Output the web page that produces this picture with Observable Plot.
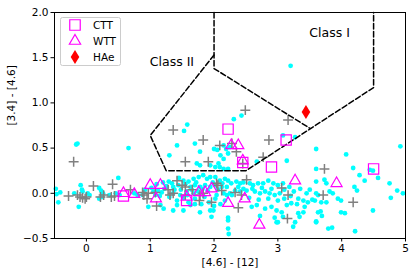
<!DOCTYPE html>
<html>
<head>
<meta charset="utf-8">
<script src="https://cdn.jsdelivr.net/npm/d3@7"></script>
<script src="https://cdn.jsdelivr.net/npm/@observablehq/plot@0.6"></script>
<style>
  body { margin: 0; background: white; }
  #wrap { position: relative; width: 416px; height: 278px; }
  #wrap svg { position: absolute; left: 0; top: 0; }
</style>
</head>
<body>
<div id="wrap"></div>
<script>
// ---- data: [4.6]-[12] (x), [3.4]-[4.6] (y) ----
const fieldStars = [
  [-0.48,0.05],[-0.41,0.01],[-0.44,-0.10],[-0.47,-0.01],[-0.16,0.54],[-0.14,0.55],
  [-0.09,0.09],[-0.07,0.04],[-0.19,0.0],[-0.12,-0.15],[-0.06,0.02],
  [0.02,0.0],[0.05,-0.02],[0.20,0.06],[0.23,0.03],[0.26,0.0],[0.20,-0.06],[0.25,-0.04],
  [0.36,-0.02],[0.46,0.0],[0.52,-0.02],[0.50,0.17],[0.66,0.50],
  [0.75,0.0],[0.80,-0.02],[0.88,-0.02],[0.92,0.04],[0.97,-0.15],
  [1.42,0.53],[1.70,0.55],[1.78,0.46],[1.30,0.42],[2.0,0.49],[2.05,0.48],[2.15,0.53],[2.19,0.49],
  [2.10,0.42],[2.15,0.38],[2.22,0.44],[1.73,0.33],[1.78,0.31],[2.09,0.29],[2.15,0.27],
  [1.58,0.76],[1.53,0.69],[2.31,0.82],[2.43,0.86],[1.94,0.31],[2.02,0.29],[2.07,0.33],[2.25,0.51],[2.22,0.27],
  [1.02,0.06],[1.05,0.02],[1.08,-0.02],[1.12,0.03],[1.15,-0.03],[1.18,0.01],[1.22,0.05],[1.25,0.08],
  [1.29,0.13],[1.34,0.11],[1.26,0.07],[1.36,0.07],[1.44,0.09],[1.52,0.14],[1.60,0.13],[1.68,0.16],
  [1.76,0.18],[1.83,0.20],[1.89,0.16],[1.94,0.18],[2.02,0.18],[2.09,0.14],[2.17,0.16],[2.22,0.14],
  [1.63,0.07],[1.70,0.09],[1.78,0.07],[1.86,0.09],[1.94,0.07],[2.02,0.09],[2.12,0.07],[2.20,0.07],
  [1.36,0.0],[1.47,-0.02],[1.57,0.02],[1.68,0.0],[2.15,0.0],[2.20,-0.02],[2.04,-0.02],[1.42,-0.08],
  [1.70,-0.06],[2.02,-0.06],[2.17,-0.08],[1.36,-0.19],[1.52,-0.19],[1.94,-0.19],[1.96,-0.26],
  [2.22,-0.30],[2.22,-0.39],[1.63,-0.13],[1.70,-0.12],[1.16,-0.13],[1.21,-0.17],[1.78,-0.21],[1.42,-0.13],
  [1.10,0.10],[1.20,0.12],[1.48,0.04],[1.55,0.10],[1.65,0.04],[1.75,0.02],[1.82,0.05],[1.90,0.03],
  [1.98,0.12],[2.06,0.04],[2.13,0.11],[1.30,-0.04],[1.52,-0.05],[1.60,-0.10],[1.85,-0.04],[1.92,-0.10],
  [2.10,-0.12],[1.45,0.17],[1.72,0.12],[1.58,-0.02],[1.38,0.04],[1.80,-0.12],[2.00,-0.14],
  [2.27,0.11],[2.35,0.13],[2.41,0.11],[2.46,0.12],[2.38,0.07],[2.46,0.05],[2.51,0.03],[2.33,0.03],
  [2.41,0.02],[2.25,0.0],[2.28,-0.02],[2.69,0.11],[2.77,0.11],[2.85,0.14],[2.93,0.11],[3.0,0.09],
  [2.56,0.11],[2.61,0.09],[3.08,0.11],[2.64,0.02],[2.72,0.0],[2.80,0.02],[2.87,0.0],[2.95,-0.02],[3.03,0.0],
  [2.59,-0.15],[2.67,-0.13],[2.80,-0.17],[2.90,-0.15],[2.98,-0.19],[3.06,-0.21],[3.14,-0.13],[3.21,-0.11],
  [3.32,-0.06],[3.40,-0.08],[3.47,-0.10],[3.54,-0.07],[3.32,-0.22],[3.40,-0.21],[2.95,-0.27],[2.98,-0.32],
  [3.27,-0.32],[3.42,-0.15],[2.22,-0.27],[2.67,0.35],[3.14,0.36],[3.08,0.64],[3.27,0.62],[3.20,1.41],
  [2.60,0.05],[2.75,0.06],[2.90,0.05],[3.10,0.04],[3.18,0.07],[3.25,0.02],[3.35,0.05],[3.45,0.0],[3.50,0.04],
  [2.55,-0.05],[2.70,-0.07],[2.85,-0.06],[3.00,-0.08],[3.10,-0.06],[3.20,-0.03],[3.30,-0.12],
  [2.72,-0.25],[3.00,-0.32],[3.08,-0.26],[3.24,-0.37],[3.34,-0.26],[3.60,-0.32],[2.23,-0.45],[1.99,-0.19],
  [3.60,0.49],[4.07,0.43],[4.92,0.52],[4.18,0.28],[4.28,0.20],[4.36,0.14],[4.44,0.26],[4.49,0.25],
  [4.57,0.17],[4.75,0.11],[4.87,0.03],[4.96,0.0],[4.77,-0.05],[3.60,0.27],[3.73,0.15],[3.76,0.11],
  [3.60,0.13],[4.20,0.07],[4.24,0.03],[3.60,0.0],[3.63,-0.02],[3.81,0.02],[3.86,0.0],[3.94,-0.06],
  [3.99,-0.08],[3.58,-0.08],[3.68,-0.10],[3.76,-0.10],[3.67,-0.20],[3.69,-0.25],[3.63,-0.21],
  [3.99,-0.21],[4.05,-0.22],[4.49,-0.19],[3.60,-0.31],[3.79,-0.39],[3.85,-0.38],[4.21,-0.42]
];
const otherStars = [
  [-0.20,0.35],[-0.28,-0.03],[-0.14,-0.02],[-0.10,-0.04],[-0.06,-0.05],[-0.02,-0.06],[0.0,-0.04],
  [0.11,0.08],[0.22,-0.04],[0.27,-0.02],[0.41,0.10],[0.39,-0.04],[0.44,-0.03],[0.69,0.04],[0.88,0.01],
  [0.90,-0.02],[0.95,-0.06],[0.97,0.0],[1.10,-0.14],[1.31,-0.02],[1.36,0.0],[1.42,0.14],[1.50,0.09],
  [1.55,0.07],[1.55,-0.02],[1.66,0.04],[1.77,-0.08],[1.78,-0.02],[1.83,0.0],[1.55,0.35],[1.83,0.59],
  [1.36,0.70],[2.09,0.53],[1.91,0.35],[2.04,0.11],[2.06,0.09],[1.96,-0.10],[2.28,0.55],[2.35,0.46],
  [2.86,0.59],[2.77,0.40],[2.45,0.33],[2.51,0.15],[2.12,0.03],[2.33,0.01],[2.43,-0.02],[2.38,-0.16],
  [3.06,0.06],[3.16,-0.02],[3.15,-0.28],[3.73,0.27],[3.71,-0.02],[4.18,-0.10],[2.49,0.92],[3.16,0.81],
  [1.08,0.01],[1.28,0.04]
];
const cttStars = [[2.22,0.71],[3.13,0.59],[2.45,0.34],[2.90,0.29],[4.50,0.27],[1.57,-0.08],[0.58,-0.03]];
const wttStars = [
  [0.58,0.0],[0.75,-0.01],[1.0,0.09],[1.16,0.09],[1.09,-0.06],[1.57,-0.04],[1.76,0.01],[1.86,0.01],
  [1.96,0.05],[2.22,-0.11],[2.27,0.53],[2.38,0.53],[2.45,0.36],[3.27,0.14],[3.92,0.11],[2.48,-0.06],[2.71,-0.35]
];
const haeStars = [[3.44,0.90]];
const classIBoundary = [[2.0,2.0],[2.0,1.38],[3.5,0.72]];
const classIIBoundary = [[2.0,1.53],[1.0,0.64],[1.25,0.25],[2.5,0.25],[4.5,1.17],[4.5,2.0]];
const regionLabels = [{x:1.34, y:1.45, t:"Class II"}, {x:3.81, y:1.77, t:"Class I"}];
const xTicks = [0,1,2,3,4,5];
const yTicks = [-0.5,0,0.5,1.0,1.5,2.0];
const legendItems = ["CTT","WTT","HAe"];

const thinDiamond = {
  draw(ctx) { const h = 7, w = 4.3; ctx.moveTo(0,-h); ctx.lineTo(w,0); ctx.lineTo(0,h); ctx.lineTo(-w,0); ctx.closePath(); }
};
const FONT = "DejaVu Sans";

const chart = Plot.plot({
  width: 416, height: 278,
  marginLeft: 54, marginRight: 11, marginTop: 12, marginBottom: 40,
  style: { fontFamily: FONT, fontSize: "10.5px", color: "black", background: "white" },
  x: { domain: [-0.5, 5] },
  y: { domain: [-0.5, 2] },
  marks: [
    Plot.dot(fieldStars, { x: d => d[0], y: d => d[1], r: 2.4, fill: "#00ffff", stroke: "none" }),
    Plot.dot(otherStars, { x: d => d[0], y: d => d[1], symbol: "plus", r: 3.3, stroke: "#808080", strokeWidth: 1.5 }),
    Plot.line(classIBoundary, { x: d => d[0], y: d => d[1], stroke: "black", strokeWidth: 1.5, strokeDasharray: "5.5,2.5" }),
    Plot.line(classIIBoundary, { x: d => d[0], y: d => d[1], stroke: "black", strokeWidth: 1.5, strokeDasharray: "5.5,2.5" }),
    Plot.dot(cttStars, { x: d => d[0], y: d => d[1], symbol: "square", r: 5.8, fill: "none", stroke: "#ff00ff", strokeWidth: 1.2 }),
    Plot.dot(wttStars, { x: d => d[0], y: d => d[1], symbol: "triangle", r: 4.1, fill: "none", stroke: "#ff00ff", strokeWidth: 1.2 }),
    Plot.dot(haeStars, { x: d => d[0], y: d => d[1], symbol: thinDiamond, fill: "#ff0000", stroke: "none" }),
    Plot.text(regionLabels, { x: "x", y: "y", text: "t", fontSize: 12.5, fill: "black" }),
    Plot.frame({ stroke: "black", strokeWidth: 1 }),
    Plot.axisX({ ticks: xTicks, tickSize: 3.5, tickPadding: 3, tickFormat: d3.format("d"), label: null, fontSize: 10.5 }),
    Plot.axisY({ ticks: yTicks, tickSize: 3.5, tickPadding: 2.5, tickFormat: d3.format(".1f"), label: null, fontSize: 10.5 }),
    Plot.text(["[4.6] - [12]"], { frameAnchor: "bottom", dy: 27, text: d => d, fontSize: 10.5, fill: "black" }),
    Plot.text(["[3.4] - [4.6]"], { frameAnchor: "left", dx: -43, rotate: -90, text: d => d, fontSize: 10.5, fill: "black" })
  ]
});
document.getElementById("wrap").appendChild(chart);

// legend overlay
const leg = d3.select("#wrap").append("svg").attr("width", 416).attr("height", 278).style("pointer-events", "none");
leg.append("rect").attr("x", 60.5).attr("y", 17.5).attr("width", 60).attr("height", 48).attr("rx", 2)
  .attr("fill", "white").attr("fill-opacity", 0.8).attr("stroke", "#cccccc");
const symY = [25, 41, 57];
leg.append("path").attr("transform", `translate(75,${symY[0]})`).attr("d", d3.symbol(d3.symbolSquare, 110)())
  .attr("fill", "none").attr("stroke", "#ff00ff").attr("stroke-width", 1.2);
leg.append("path").attr("transform", `translate(75,${symY[1]})`).attr("d", d3.symbol(d3.symbolTriangle, 55)())
  .attr("fill", "none").attr("stroke", "#ff00ff").attr("stroke-width", 1.2);
leg.append("path").attr("transform", `translate(75,${symY[2]})`).attr("d", d3.symbol(thinDiamond)())
  .attr("fill", "#ff0000");
legendItems.forEach((t, i) => {
  leg.append("text").attr("x", 93).attr("y", symY[i]).attr("dy", "0.35em").attr("font-family", FONT)
    .attr("font-size", 10.5).attr("fill", "black").text(t);
});
</script>
</body>
</html>
